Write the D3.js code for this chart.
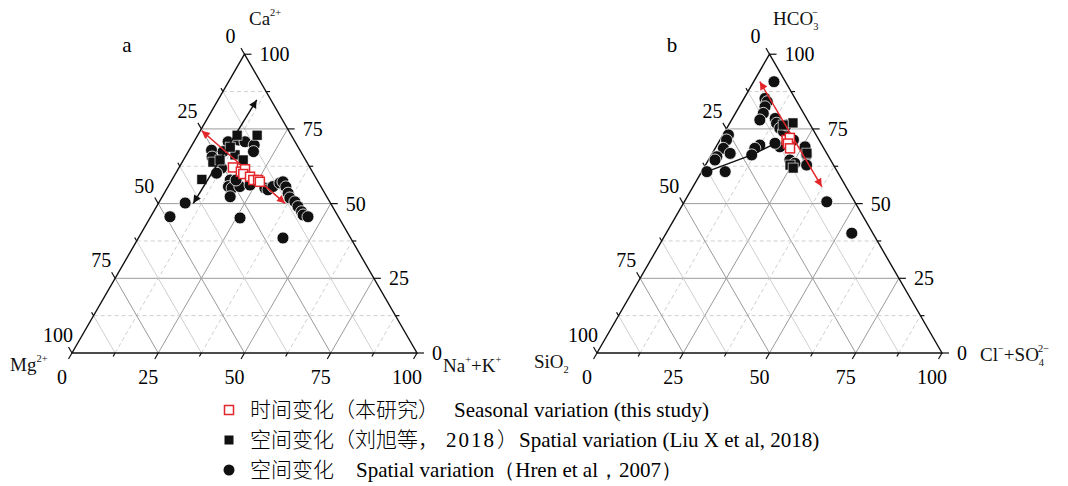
<!DOCTYPE html>
<html>
<head>
<meta charset="utf-8">
<script src="https://cdn.jsdelivr.net/npm/d3@7"></script>
<style>
  body { margin: 0; background: #fff; }
  svg text { font-family: "Liberation Serif", "Times New Roman", serif; }
</style>
</head>
<body>
<script>
// chart size
var width = 1068,
    height = 486;

// panel a: [Ca, Na+K] in %, Mg is the rest
var hrenA = [[70.7,9.9],[71.3,12.6],[70.7,14.8],[69.6,18.0],[67.4,18.9],[67.9,6.5],[67.4,10.1],
  [65.6,7.8],[63.6,10.5],[61.9,12.4],[60.2,11.8],[57.9,16.9],[55.7,17.5],[55.2,18.8],[52.3,19.7],
  [55.7,20.8],[57.9,18.6],[56.2,23.5],[55.2,28.3],[54.6,29.5],[55.7,30.4],[56.9,31.8],[57.3,32.5],
  [55.6,34.2],[53.5,35.9],[51.9,37.2],[50.6,39.3],[49.0,41.0],[47.3,42.9],[46.2,43.9],[45.6,45.6],
  [50.2,7.7],[45.6,5.6],[45.2,26.1],[38.5,41.9]];
var liuA = [[72.9,11.4],[72.9,17.2],[66.3,14.1],[64.6,17.3],[63.9,8.9],[64.6,10.6],[58.1,8.6],[68.9,11.4]];
var seasonalA = [[62.1,15.6],[60.7,18.6],[61.5,19.4],[59.9,19.7],[59.0,22.1],[57.9,23.6],[57.9,25.0],[57.3,25.8]];
var redArrowA = [[74.4,0.4],[50.1,36.7]];
var blackArrowA = [[50.1,10.1],[84.7,11.2]];

// panel b: [HCO3, Cl+SO4] in %, SiO2 is the rest
var hrenB = [[90.8,5.9],[85.2,6.1],[84.1,7.3],[82.4,7.5],[80.2,8.1],[78.0,8.2],[78.5,12.4],[76.9,13.6],
  [75.2,15.4],[74.1,17.0],[76.3,16.8],[71.3,21.3],[69.0,25.8],[66.3,27.6],[62.9,29.3],[64.6,23.6],
  [63.5,25.6],[69.0,18.5],[70.2,16.5],[69.6,12.4],[68.5,11.5],[66.3,11.7],[73.0,1.6],[71.3,1.9],
  [68.5,2.4],[66.8,5.2],[65.7,1.9],[64.6,1.9],[60.7,6.8],[60.7,1.5],[50.6,41.3],[40.1,53.8]];
var liuB = [[77.0,18.3],[62.9,24.5],[66.9,27.4],[61.9,25.9],[76.3,15.8]];
var seasonalB = [[71.3,19.3],[72.0,19.9],[70.1,20.3],[68.5,21.7]];
var redArrowB = [[90.8,1.8],[55.7,37.3]];
var blackLineB = [[60.7,1.5],[66.3,11.7],[69.6,15.9]];

var gridValues = [12.5, 25, 37.5, 50, 62.5, 75, 87.5];
var tickValues = [0, 12.5, 25, 37.5, 50, 62.5, 75, 87.5, 100];

var red = "#e3262b";
var cjk = "'Noto Sans CJK SC', sans-serif";

var svg = d3.select("body")
    .append("svg")
    .attr("width", width)
    .attr("height", height);

// arrow heads
var defs = svg.append("defs");
[["arrRed", red], ["arrBlack", "#111"]].forEach(function (m) {
    defs.append("marker")
        .attr("id", m[0])
        .attr("viewBox", "0 0 10 10")
        .attr("refX", 10).attr("refY", 5)
        .attr("markerWidth", 10).attr("markerHeight", 8)
        .attr("markerUnits", "userSpaceOnUse")
        .attr("orient", "auto-start-reverse")
        .append("path")
        .attr("d", "M0,0 L10,5 L0,10 z")
        .attr("fill", m[1]);
});

// add text made of pieces (normal / sup / sub)
function richText(g, x, y, parts, size) {
    var t = g.append("text").attr("x", x).attr("y", y)
        .attr("font-size", size).attr("fill", "#111");
    parts.forEach(function (p) {
        var s = t.append("tspan").text(p.t);
        if (p.small) s.attr("font-size", size * 0.55);
        if (p.dx) s.attr("dx", p.dx);
        if (p.dy) s.attr("dy", p.dy);
    });
    return t;
}

function drawTernary(x0, panel) {
    var side = 345,
        base = 353,
        h = side * Math.sqrt(3) / 2;

    var xs = d3.scaleLinear().domain([0, 100]).range([x0, x0 + side]);
    var ys = d3.scaleLinear().domain([0, 100]).range([base, base - h]);
    // top, right -> pixel
    function px(top, right) { return xs(right + top / 2); }
    function py(top) { return ys(top); }

    var g = svg.append("g");

    // grid lines
    gridValues.forEach(function (v) {
        var major = v % 25 === 0;
        var col = major ? "#9a9a9a" : "#cfcfcf";
        // constant top (horizontal)
        g.append("line")
            .attr("x1", px(v, 0)).attr("y1", py(v))
            .attr("x2", px(v, 100 - v)).attr("y2", py(v))
            .attr("stroke", col).attr("stroke-width", 1)
            .attr("stroke-dasharray", major ? null : "4,3");
        // constant right component
        g.append("line")
            .attr("x1", px(0, v)).attr("y1", py(0))
            .attr("x2", px(100 - v, v)).attr("y2", py(100 - v))
            .attr("stroke", col).attr("stroke-width", 1)
            .attr("stroke-dasharray", major ? null : "4,3");
        // constant left component
        g.append("line")
            .attr("x1", px(0, 100 - v)).attr("y1", py(0))
            .attr("x2", px(100 - v, 0)).attr("y2", py(100 - v))
            .attr("stroke", col).attr("stroke-width", 1);
    });

    // outline
    g.append("path")
        .attr("d", "M" + px(100, 0) + "," + py(100) +
            "L" + px(0, 0) + "," + py(0) +
            "L" + px(0, 100) + "," + py(0) + "Z")
        .attr("fill", "none").attr("stroke", "#111").attr("stroke-width", 1.4);

    // ticks and labels
    tickValues.forEach(function (v) {
        var major = v % 25 === 0;
        var len = major ? 7 : 4;
        // left axis: value of left component
        var lx = px(100 - v, 0), ly = py(100 - v);
        g.append("line").attr("x1", lx).attr("y1", ly)
            .attr("x2", lx - 0.5 * len).attr("y2", ly - 0.866 * len)
            .attr("stroke", "#111").attr("stroke-width", 1.2);
        // right axis: value of top component
        var rx = px(v, 100 - v), ry = py(v);
        g.append("line").attr("x1", rx).attr("y1", ry)
            .attr("x2", rx + len).attr("y2", ry)
            .attr("stroke", "#111").attr("stroke-width", 1.2);
        // bottom axis: value of right component
        var bx = px(0, v), by = py(0);
        g.append("line").attr("x1", bx).attr("y1", by)
            .attr("x2", bx - 0.5 * len).attr("y2", by + 0.866 * len)
            .attr("stroke", "#111").attr("stroke-width", 1.2);
        if (major) {
            g.append("text").attr("x", lx - 14).attr("y", ly - 11)
                .attr("text-anchor", "middle").attr("font-size", 20).text(v);
            g.append("text").attr("x", rx + 15).attr("y", ry + 7)
                .attr("text-anchor", "start").attr("font-size", 20).text(v);
            g.append("text").attr("x", bx - 10).attr("y", by + 31)
                .attr("text-anchor", "middle").attr("font-size", 20).text(v);
        }
    });

    var line = d3.line()
        .x(function (d) { return px(d[0], d[1]); })
        .y(function (d) { return py(d[0]); });

    // points
    g.selectAll("circle.hren")
        .data(panel.circles).enter()
        .append("circle")
        .attr("class", "hren")
        .attr("cx", function (d) { return px(d[0], d[1]); })
        .attr("cy", function (d) { return py(d[0]); })
        .attr("r", 6)
        .attr("fill", "#111")
        .attr("stroke", "#fff").attr("stroke-width", 0.8);

    g.selectAll("rect.liu")
        .data(panel.squares).enter()
        .append("rect")
        .attr("class", "liu")
        .attr("x", function (d) { return px(d[0], d[1]) - 5; })
        .attr("y", function (d) { return py(d[0]) - 5; })
        .attr("width", 10).attr("height", 10)
        .attr("fill", "#111")
        .attr("stroke", "#fff").attr("stroke-width", 0.6);

    // lines and arrows
    panel.lines.forEach(function (l) {
        g.append("path")
            .attr("d", line(l.pts))
            .attr("fill", "none")
            .attr("stroke", l.color).attr("stroke-width", 1.5)
            .attr("marker-start", l.marker ? "url(#" + l.marker + ")" : null)
            .attr("marker-end", l.marker ? "url(#" + l.marker + ")" : null);
    });

    g.selectAll("rect.seasonal")
        .data(panel.seasonal).enter()
        .append("rect")
        .attr("class", "seasonal")
        .attr("x", function (d) { return px(d[0], d[1]) - 4.5; })
        .attr("y", function (d) { return py(d[0]) - 4.5; })
        .attr("width", 9).attr("height", 9)
        .attr("fill", "#fff")
        .attr("stroke", red).attr("stroke-width", 1.5);

    return g;
}

drawTernary(72, {
    circles: hrenA, squares: liuA, seasonal: seasonalA,
    lines: [{ pts: blackArrowA, color: "#111", marker: "arrBlack" },
            { pts: redArrowA, color: red, marker: "arrRed" }]
});
drawTernary(597, {
    circles: hrenB, squares: liuB, seasonal: seasonalB,
    lines: [{ pts: blackLineB, color: "#111", marker: null },
            { pts: redArrowB, color: red, marker: "arrRed" }]
});

// panel letters
svg.append("text").attr("x", 127).attr("y", 52).attr("font-size", 21)
    .attr("text-anchor", "middle").text("a");
svg.append("text").attr("x", 672).attr("y", 52).attr("font-size", 21)
    .attr("text-anchor", "middle").text("b");

// axis titles
richText(svg, 249, 25, [{ t: "Ca" }, { t: "2+", small: true, dy: -9 }], 19);
richText(svg, 10, 371, [{ t: "Mg" }, { t: "2+", small: true, dy: -9 }], 19);
richText(svg, 443, 372, [{ t: "Na" }, { t: "+", small: true, dy: -9 }, { t: "+K", dy: 9 },
    { t: "+", small: true, dy: -9 }], 19);
richText(svg, 773, 25, [{ t: "HCO" }, { t: "3", small: true, dy: 5 },
    { t: "\u2212", small: true, dx: -6, dy: -14 }], 19);
richText(svg, 534, 368, [{ t: "SiO" }, { t: "2", small: true, dy: 5 }], 19);
richText(svg, 980, 361, [{ t: "Cl" }, { t: "\u2212", small: true, dy: -9 }, { t: "+SO", dy: 9 },
    { t: "4", small: true, dy: 5 }, { t: "2\u2212", small: true, dx: -6, dy: -14 }], 19);

// legend: each row is a list of [text, x, isChinese]
var legendKinds = ["seasonal", "liu", "hren"];
var legendTexts = [
    [["时间变化（本研究）", 250, true], ["Seasonal variation (this study)", 454, false]],
    [["空间变化（刘旭等，", 250, true], ["2018", 446, false], ["）", 497, true],
     ["Spatial variation (Liu X et al, 2018)", 519, false]],
    [["空间变化", 250, true], ["Spatial variation（Hren et al，2007）", 356, false]]
];
var legend = svg.append("g");
legendKinds.forEach(function (kind, i) {
    var y = 410 + i * 30;
    if (kind === "seasonal") {
        legend.append("rect").attr("x", 224.5).attr("y", y - 4.5).attr("width", 9).attr("height", 9)
            .attr("fill", "#fff").attr("stroke", red).attr("stroke-width", 1.5);
    } else if (kind === "liu") {
        legend.append("rect").attr("x", 224.5).attr("y", y - 4.5).attr("width", 9).attr("height", 9)
            .attr("fill", "#111");
    } else {
        legend.append("circle").attr("cx", 229).attr("cy", y).attr("r", 5.5).attr("fill", "#111");
    }
    legendTexts[i].forEach(function (p) {
        var t = legend.append("text").attr("x", p[1]).attr("y", y + 7).text(p[0]);
        if (p[2]) {
            t.attr("font-size", 21).style("font-family", cjk).style("font-weight", 300);
        } else {
            t.attr("font-size", 21);
        }
        if (p[0] === "2018") t.attr("letter-spacing", 2);
    });
});
</script>
</body>
</html>
